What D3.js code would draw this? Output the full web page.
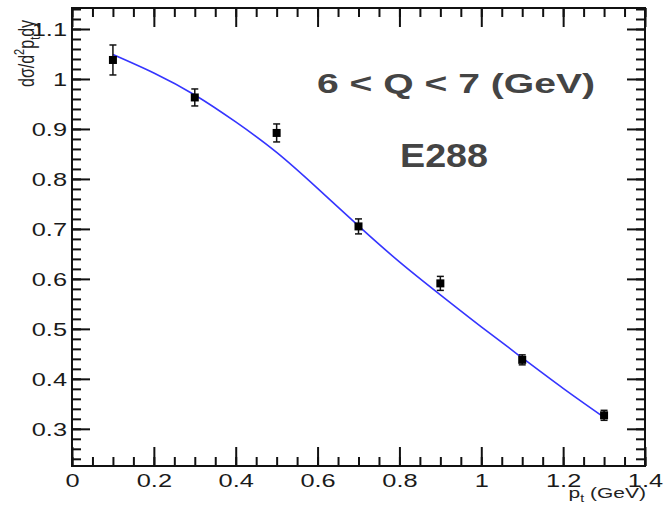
<!DOCTYPE html>
<html>
<head>
<meta charset="utf-8">
<script src="https://cdn.jsdelivr.net/npm/d3@7"></script>
<style>
  body { margin: 0; background: #fff; }
  svg { display: block; font-family: "Liberation Sans", Arial, sans-serif; }
</style>
</head>
<body>
<svg id="chart" width="668" height="509"></svg>
<script>
// data points (E288, 6 < Q < 7 GeV)
var ptValues = [0.1, 0.3, 0.5, 0.7, 0.9, 1.1, 1.3];
var sigmaValues = [1.038, 0.963, 0.892, 0.705, 0.591, 0.438, 0.327];
var sigmaErrors = [0.030, 0.017, 0.018, 0.015, 0.014, 0.010, 0.010];

// fit curve
var curvePt = [0.1, 0.2, 0.3, 0.4, 0.5, 0.6, 0.7, 0.8, 0.9, 1.0, 1.1, 1.2, 1.3];
var curveSigma = [1.049, 1.012, 0.968, 0.914, 0.853, 0.781, 0.706, 0.634, 0.568, 0.504, 0.442, 0.381, 0.323];

var xTicks = [0, 0.2, 0.4, 0.6, 0.8, 1, 1.2, 1.4];
var yTicks = [0.3, 0.4, 0.5, 0.6, 0.7, 0.8, 0.9, 1, 1.1];

var svg = d3.select("#chart");
var padL = 72, padR = 645, padT = 8, padB = 466;
var sx = 1.45; // the picture is stretched horizontally

var x = d3.scaleLinear().domain([0, 1.4]).range([padL, padR]);
var y = d3.scaleLinear().domain([0.2256, 1.142]).range([padB, padT]);

var xMinor = d3.range(0, 1.4001, 0.05);
var yMinor = d3.range(0.24, 1.1401, 0.02);

function styleAxis(g) {
    g.select(".domain").remove();
    g.selectAll("line").attr("stroke", "#111").attr("stroke-width", 2);
}

// bottom
svg.append("g").attr("transform", "translate(0," + padB + ")")
    .call(d3.axisBottom(x).tickValues(xMinor).tickSize(-9).tickFormat(""))
    .call(styleAxis);
var xb = svg.append("g").attr("transform", "translate(0," + padB + ")")
    .call(d3.axisBottom(x).tickValues(xTicks).tickSize(-19).tickFormat(d3.format("")))
    .call(styleAxis);
xb.selectAll("text")
    .attr("y", 21).attr("dy", null)
    .attr("transform", "scale(" + sx + ",1)")
    .attr("font-size", 17.5).attr("fill", "#1a1a1a")
    .attr("font-family", "Liberation Sans, Arial, sans-serif");

// top
svg.append("g").attr("transform", "translate(0," + padT + ")")
    .call(d3.axisTop(x).tickValues(xMinor).tickSize(-9).tickFormat(""))
    .call(styleAxis);
svg.append("g").attr("transform", "translate(0," + padT + ")")
    .call(d3.axisTop(x).tickValues(xTicks).tickSize(-19).tickFormat(""))
    .call(styleAxis);

// left
svg.append("g").attr("transform", "translate(" + padL + ",0)")
    .call(d3.axisLeft(y).tickValues(yMinor).tickSize(-9).tickFormat(""))
    .call(styleAxis);
var yl = svg.append("g").attr("transform", "translate(" + padL + ",0)")
    .call(d3.axisLeft(y).tickValues(yTicks).tickSize(-18).tickFormat(d3.format("")))
    .call(styleAxis);
yl.selectAll("text")
    .attr("x", -5 / sx).attr("dy", "0.36em")
    .attr("transform", "scale(" + sx + ",1)")
    .attr("font-size", 17.5).attr("fill", "#1a1a1a")
    .attr("font-family", "Liberation Sans, Arial, sans-serif");

// right
svg.append("g").attr("transform", "translate(" + padR + ",0)")
    .call(d3.axisRight(y).tickValues(yMinor).tickSize(-9).tickFormat(""))
    .call(styleAxis);
svg.append("g").attr("transform", "translate(" + padR + ",0)")
    .call(d3.axisRight(y).tickValues(yTicks).tickSize(-18).tickFormat(""))
    .call(styleAxis);

// frame
svg.append("rect")
    .attr("x", padL).attr("y", padT)
    .attr("width", padR - padL).attr("height", padB - padT)
    .attr("fill", "none").attr("stroke", "#111").attr("stroke-width", 2);

// fit curve
var line = d3.line()
    .x(function(d, i) { return x(curvePt[i]); })
    .y(function(d) { return y(d); })
    .curve(d3.curveNatural);
svg.append("path")
    .datum(curveSigma)
    .attr("d", line)
    .attr("fill", "none")
    .attr("stroke", "#3535ff")
    .attr("stroke-width", 1.6);

// error bars and markers
var pts = svg.append("g").selectAll("g")
    .data(ptValues)
    .enter().append("g");

pts.append("line")
    .attr("x1", function(d) { return x(d); })
    .attr("x2", function(d) { return x(d); })
    .attr("y1", function(d, i) { return y(sigmaValues[i] - sigmaErrors[i]); })
    .attr("y2", function(d, i) { return y(sigmaValues[i] + sigmaErrors[i]); })
    .attr("stroke", "#111").attr("stroke-width", 1.5);

[-1, 1].forEach(function(s) {
    pts.append("line")
        .attr("x1", function(d) { return x(d) - 3.5; })
        .attr("x2", function(d) { return x(d) + 3.5; })
        .attr("y1", function(d, i) { return y(sigmaValues[i] + s * sigmaErrors[i]); })
        .attr("y2", function(d, i) { return y(sigmaValues[i] + s * sigmaErrors[i]); })
        .attr("stroke", "#111").attr("stroke-width", 1.5);
});

pts.append("rect")
    .attr("x", function(d) { return x(d) - 4; })
    .attr("y", function(d, i) { return y(sigmaValues[i]) - 4; })
    .attr("width", 8).attr("height", 8)
    .attr("fill", "#000");

// labels
svg.append("text")
    .attr("x", 317).attr("y", 93)
    .attr("font-size", 28.5).attr("font-weight", "bold")
    .attr("fill", "#444")
    .attr("textLength", 278).attr("lengthAdjust", "spacingAndGlyphs")
    .text("6 < Q < 7 (GeV)");

svg.append("text")
    .attr("x", 400).attr("y", 167)
    .attr("font-size", 33).attr("font-weight", "bold")
    .attr("fill", "#444")
    .attr("textLength", 88).attr("lengthAdjust", "spacingAndGlyphs")
    .text("E288");

var yTitle = svg.append("text")
    .attr("transform", "translate(34,87) rotate(-90) scale(1,1.4)")
    .attr("font-size", 16).attr("fill", "#222");
yTitle.append("tspan").text("dσ/d");
yTitle.append("tspan").attr("font-size", 11).attr("dy", -7).text("2");
yTitle.append("tspan").attr("dy", 7).text("p");
yTitle.append("tspan").attr("font-size", 11).attr("dy", 4).text("t");
yTitle.append("tspan").attr("dy", -4).text("dy");

var xTitle = svg.append("text")
    .attr("transform", "translate(646,498) scale(1.4,1)")
    .attr("text-anchor", "end")
    .attr("font-size", 15).attr("fill", "#222");
xTitle.append("tspan").text("p");
xTitle.append("tspan").attr("font-size", 10).attr("dy", 4).text("t");
xTitle.append("tspan").attr("dy", -4).text(" (GeV)");
</script>
</body>
</html>
